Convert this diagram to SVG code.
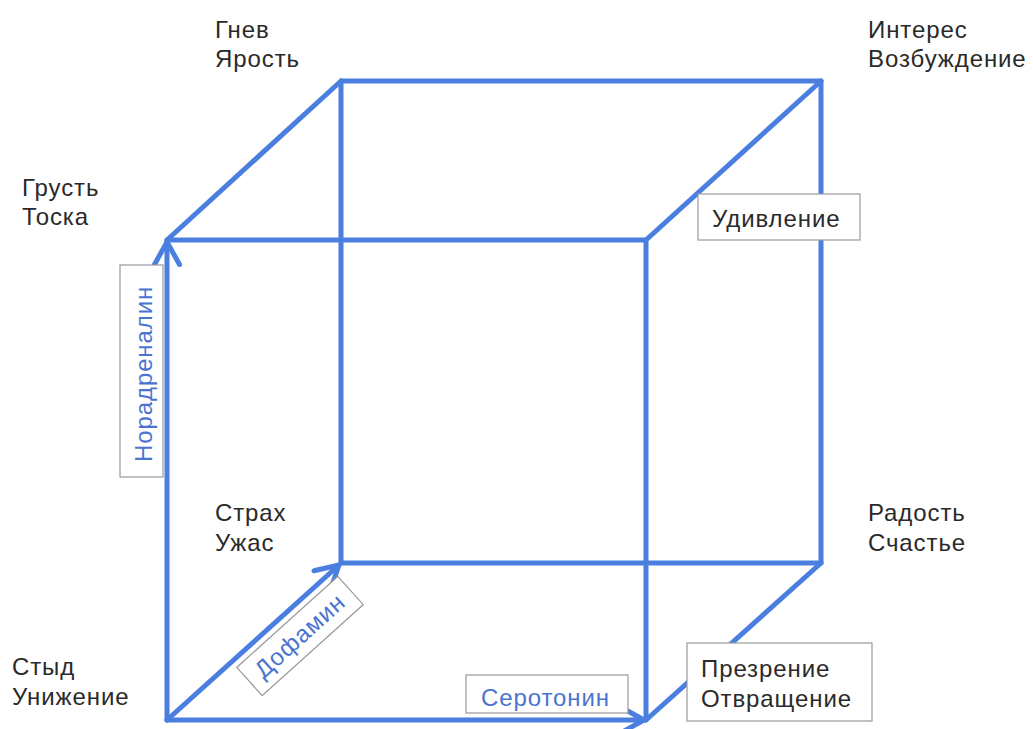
<svg xmlns="http://www.w3.org/2000/svg" width="1033" height="729" viewBox="0 0 1033 729">
<defs>
<style>
.t{font-family:"Liberation Sans",Arial,sans-serif;font-size:24px;letter-spacing:0.9px;fill:#2a2a2a}
.b{font-family:"Liberation Sans",Arial,sans-serif;font-size:24px;letter-spacing:0.9px;fill:#4a74d0}
.edge{stroke:#4a7fe0;stroke-width:5;fill:none;stroke-linecap:round;stroke-linejoin:round}
.box{fill:#fff;stroke:#999;stroke-width:1.2}
</style>
<marker id="ah" viewBox="0 0 12 12" refX="10" refY="6" markerWidth="6" markerHeight="6" orient="auto" markerUnits="strokeWidth">
<path d="M1,1 L10,6 L1,11" fill="none" stroke="#4a7fe0" stroke-width="2" stroke-linecap="round" stroke-linejoin="round"/>
</marker>
</defs>
<rect width="1033" height="729" fill="#fff"/>
<g id="connectors">
<polyline class="edge" points="341,563 341,81 821,81 821,563 341,563"/>
<line class="edge" x1="167" y1="240" x2="341" y2="81"/>
<line class="edge" x1="646" y1="240" x2="821" y2="81"/>
<line class="edge" x1="646" y1="720" x2="821" y2="563"/>
<polyline class="edge" points="167,240 646,240 646,720"/>
<line class="edge" x1="167" y1="720" x2="167" y2="242" marker-end="url(#ah)"/>
<line class="edge" x1="167" y1="720" x2="339" y2="565" marker-end="url(#ah)"/>
<line class="edge" x1="167" y1="720" x2="644" y2="720" marker-end="url(#ah)"/>
</g>
<g id="node-gnev"><text class="t" x="215" y="38">Гнев</text><text class="t" x="215" y="67">Ярость</text></g>
<g id="node-interes"><text class="t" x="868" y="38">Интерес</text><text class="t" x="868" y="67">Возбуждение</text></g>
<g id="node-grust"><text class="t" x="22" y="196">Грусть</text><text class="t" x="22" y="225">Тоска</text></g>
<g id="node-strah"><text class="t" x="215" y="521">Страх</text><text class="t" x="215" y="551">Ужас</text></g>
<g id="node-radost"><text class="t" x="868" y="521">Радость</text><text class="t" x="868" y="551">Счастье</text></g>
<g id="node-styd"><text class="t" x="12" y="675">Стыд</text><text class="t" x="12" y="705">Унижение</text></g>
<g id="node-udivlenie"><rect class="box" x="698" y="194" width="162" height="46"/><text class="t" x="712" y="227">Удивление</text></g>
<g id="node-prezrenie"><rect class="box" x="687" y="643" width="185" height="78"/><text class="t" x="701" y="677">Презрение</text><text class="t" x="701" y="707">Отвращение</text></g>
<g id="label-noradrenalin"><rect class="box" x="120" y="265" width="43" height="212"/><text class="b" x="0" y="0" transform="translate(152,462) rotate(-90)">Норадреналин</text></g>
<g id="label-dofamin"><g transform="translate(300,636) rotate(-42)"><rect class="box" x="-68" y="-19" width="136" height="38"/><text class="b" x="0" y="8" text-anchor="middle">Дофамин</text></g></g>
<g id="label-serotonin"><rect class="box" x="466" y="675" width="162" height="38"/><text class="b" x="481" y="706">Серотонин</text></g>
</svg>
